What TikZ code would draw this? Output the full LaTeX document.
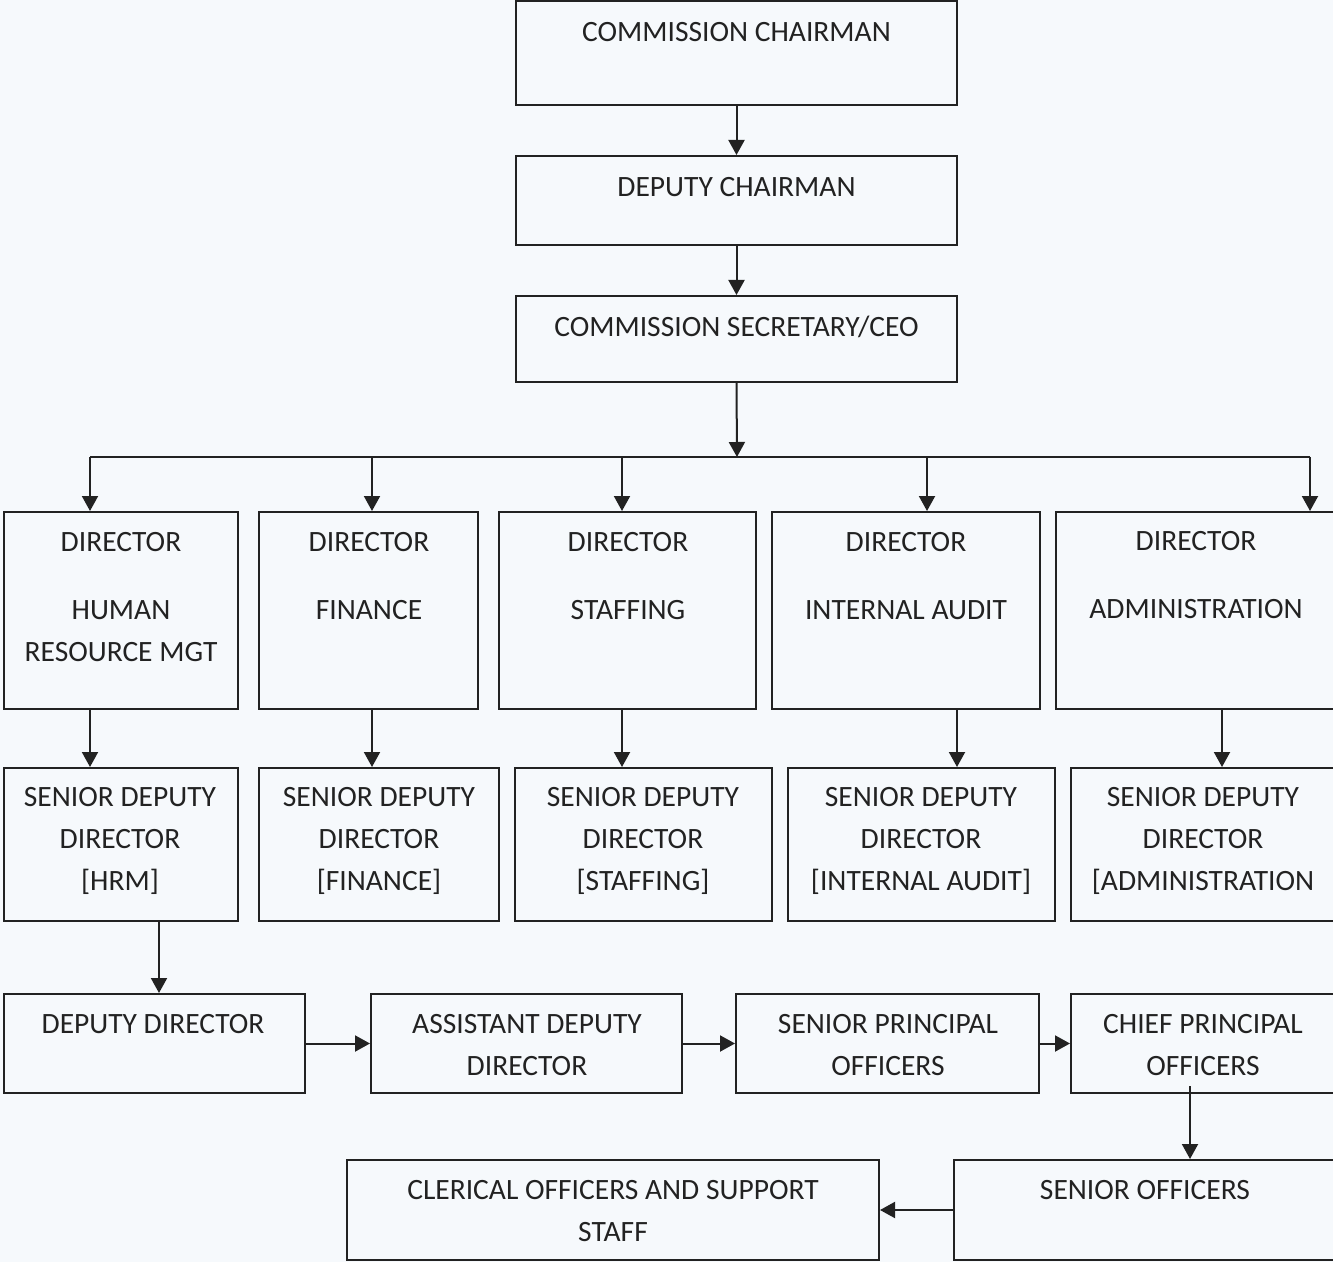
\documentclass[tikz,border=0pt]{standalone}
\usepackage{fontspec}
\setmainfont{Carlito}
\usetikzlibrary{arrows.meta,fit}
\definecolor{ink}{RGB}{34,34,34}
\definecolor{paper}{RGB}{246,249,252}
\tikzset{
  box/.style={draw=ink, line width=1pt, inner sep=0pt, rectangle},
  txt/.style={text=ink, font=\fontsize{14.75}{21}\selectfont, align=center, inner sep=0pt},
  arr/.style={draw=ink, line width=1pt, -{Triangle[length=7.5pt,width=8pt]}},
  ln/.style={draw=ink, line width=1pt},
}
\begin{document}
\begin{tikzpicture}[x=0.5pt,y=-0.5pt]
\useasboundingbox (0,0) rectangle (1333,1262);
\fill[paper] (0,0) rectangle (1333,1262);
\clip (0,0) rectangle (1333,1262);
% top chain
\node[box, fit={(516,1) (957,105)}] (cc) {};
\node[txt] (tcc) at (736.5,32) {COMMISSION CHAIRMAN};
\node[box, fit={(516,156) (957,245)}] (dc) {};
\node[txt] (tdc) at (736.5,187) {DEPUTY CHAIRMAN};
\node[box, fit={(516,296) (957,382)}] (cs) {};
\node[txt] (tcs) at (736.5,327) {COMMISSION SECRETARY/CEO};
% directors
\node[box, fit={(4,512) (238,709)}] (d1) {};
\node[box, fit={(259,512) (478,709)}] (d2) {};
\node[box, fit={(499,512) (756,709)}] (d3) {};
\node[box, fit={(772,512) (1040,709)}] (d4) {};
\node[box, fit={(1056,512) (1337,709)}] (d5) {};
\node[txt] (td1a) at (121,542) {DIRECTOR};
\node[txt] (td1b) at (121,631) {HUMAN\\RESOURCE MGT};
\node[txt] (td2a) at (369,542) {DIRECTOR};
\node[txt] (td2b) at (369,610) {FINANCE};
\node[txt] (td3a) at (628,542) {DIRECTOR};
\node[txt] (td3b) at (628,610) {STAFFING};
\node[txt] (td4a) at (906,542) {DIRECTOR};
\node[txt] (td4b) at (906,610) {INTERNAL AUDIT};
\node[txt] (td5a) at (1196,541) {DIRECTOR};
\node[txt] (td5b) at (1196,609) {ADMINISTRATION};
% senior deputy directors
\node[box, fit={(4,768) (238,921)}] (s1) {};
\node[box, fit={(259,768) (499,921)}] (s2) {};
\node[box, fit={(515,768) (772,921)}] (s3) {};
\node[box, fit={(788,768) (1055,921)}] (s4) {};
\node[box, fit={(1071,768) (1337,921)}] (s5) {};
\node[txt] (ts1) at (120,841) {SENIOR DEPUTY\\DIRECTOR\\{[}HRM{]}};
\node[txt] (ts2) at (379,841) {SENIOR DEPUTY\\DIRECTOR\\{[}FINANCE{]}};
\node[txt] (ts3) at (643,841) {SENIOR DEPUTY\\DIRECTOR\\{[}STAFFING{]}};
\node[txt] (ts4) at (921,841) {SENIOR DEPUTY\\DIRECTOR\\{[}INTERNAL AUDIT{]}};
\node[txt] (ts5) at (1203,841) {SENIOR DEPUTY\\DIRECTOR\\{[}ADMINISTRATION};
% row 3
\node[box, fit={(4,994) (305,1093)}] (dd) {};
\node[box, fit={(371,994) (682,1093)}] (add) {};
\node[box, fit={(736,994) (1039,1093)}] (spo) {};
\node[box, fit={(1071,994) (1337,1093)}] (cpo) {};
\node[txt] (tdd) at (153,1024) {DEPUTY DIRECTOR};
\node[txt] (tadd) at (527,1045) {ASSISTANT DEPUTY\\DIRECTOR};
\node[txt] (tspo) at (888,1045) {SENIOR PRINCIPAL\\OFFICERS};
\node[txt] (tcpo) at (1203,1045) {CHIEF PRINCIPAL\\OFFICERS};
% row 4
\node[box, fit={(347,1160) (879,1260)}] (cl) {};
\node[box, fit={(954,1160) (1337,1260)}] (so) {};
\node[txt] (tcl) at (613,1211) {CLERICAL OFFICERS AND SUPPORT\\STAFF};
\node[txt] (tso) at (1145,1190) {SENIOR OFFICERS};
% connector coordinates
\coordinate (bus) at (737,457);
\coordinate (b1) at (90,457);
\coordinate (b2) at (372,457);
\coordinate (b3) at (622,457);
\coordinate (b4) at (927,457);
\coordinate (b5) at (1310,457);
\coordinate (x4) at (957,0);
\coordinate (x5) at (1222,0);
\coordinate (x6) at (159,0);
\coordinate (x7) at (1190,0);
% connectors
\draw[arr] (cc.south) -- (dc.north);
\draw[arr] (dc.south) -- (cs.north);
\draw[arr] (cs.south) -- (bus);
\draw[ln] (b1) -- (b5);
\draw[arr] (b1) -- (b1 |- d1.north);
\draw[arr] (b2) -- (b2 |- d2.north);
\draw[arr] (b3) -- (b3 |- d3.north);
\draw[arr] (b4) -- (b4 |- d4.north);
\draw[arr] (b5) -- (b5 |- d5.north);
\draw[arr] (d1.south -| b1) -- (s1.north -| b1);
\draw[arr] (d2.south -| b2) -- (s2.north -| b2);
\draw[arr] (d3.south -| b3) -- (s3.north -| b3);
\draw[arr] (d4.south -| x4) -- (s4.north -| x4);
\draw[arr] (d5.south -| x5) -- (s5.north -| x5);
\draw[arr] (s1.south -| x6) -- (dd.north -| x6);
\draw[arr] (dd.east) -- (add.west);
\draw[arr] (add.east) -- (spo.west);
\draw[arr] (spo.east) -- (cpo.west);
\draw[arr] ([yshift=4pt]cpo.south -| x7) -- (so.north -| x7);
\draw[arr] (so.west) -- (cl.east);
\end{tikzpicture}
\end{document}
